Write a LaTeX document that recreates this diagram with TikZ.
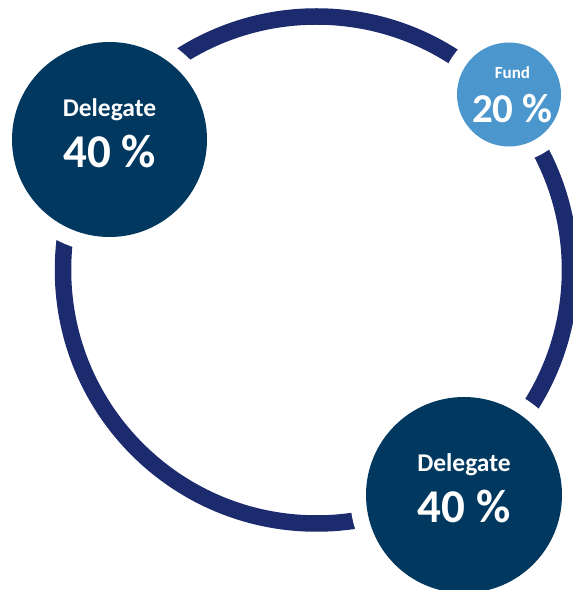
\documentclass[tikz,border=0pt]{standalone}
\usepackage{fontspec}
\setmainfont{Carlito}
\usetikzlibrary{calc}
\definecolor{ringblue}{RGB}{28,43,110}
\definecolor{mydark}{RGB}{0,56,96}
\definecolor{mylight}{RGB}{75,151,205}
\tikzstyle{ring}=[ringblue,line width=16.5]
\tikzstyle{bubble}=[circle,inner sep=0,preaction={draw=white,line width=32}]
\tikzstyle{share name}=[white,anchor=base,inner sep=0,font=\bfseries\fontsize{25.5}{30}\selectfont]
\tikzstyle{share value}=[white,anchor=base,inner sep=0,font=\bfseries\fontsize{47}{56}\selectfont]

\begin{document}
\begin{tikzpicture}[x=1pt,y=1pt]
  \useasboundingbox (0,0) rectangle (573,590);
  
  % RING
  \draw[ring] (316.5,320) circle (253.5);
  
  % BUBBLES
  \node[bubble,fill=mydark,minimum size=195]  (deltop) at (109.5,450.5) {};
  \node[bubble,fill=mylight,minimum size=104] (fund)   at (509,495.5)   {};
  \node[bubble,fill=mydark,minimum size=196]  (delbot) at (464,95)      {};
  
  % SHARES
  \node[share name]  (deltopname) at ($(deltop)+(0,22.5)$)  {Delegate};
  \node[share value] (deltopval)  at ($(deltop)+(0,-28.5)$) {40 \%};
  \node[share name,font=\bfseries\fontsize{17}{20}\selectfont]  (fundname) at ($(fund)+(3.5,15.5)$)  {Fund};
  \node[share value,font=\bfseries\fontsize{41}{49}\selectfont] (fundval)  at ($(fund)+(3.5,-28.5)$) {20 \%};
  \node[share name]  (delbotname) at ($(delbot)+(0,23)$)  {Delegate};
  \node[share value] (delbotval)  at ($(delbot)+(0,-28)$) {40 \%};
  
\end{tikzpicture}
\end{document}
